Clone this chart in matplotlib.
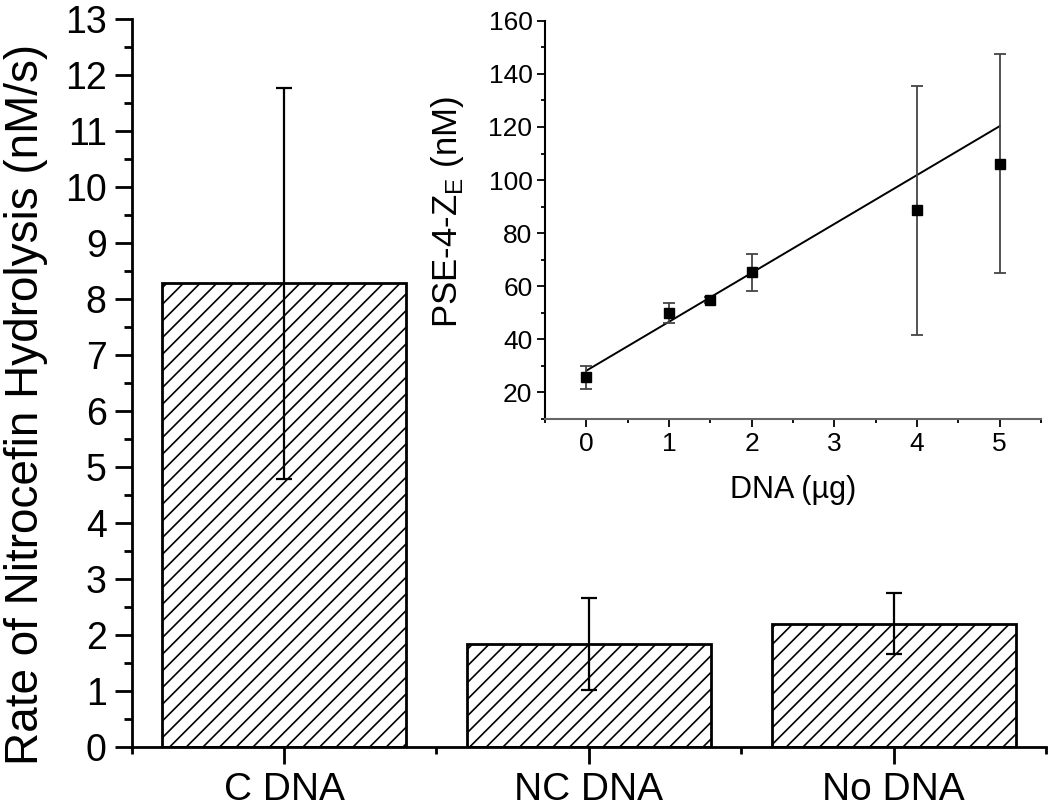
import matplotlib
matplotlib.use('Agg')
import matplotlib.pyplot as plt
from matplotlib.ticker import MultipleLocator

plt.rcParams['font.family'] = ['Liberation Sans', 'DejaVu Sans']
plt.rcParams['mathtext.fontset'] = 'custom'
plt.rcParams['mathtext.rm'] = 'Liberation Sans'
plt.rcParams['hatch.linewidth'] = 1.2

# main bar data
categories = ['C DNA', 'NC DNA', 'No DNA']
rates = [8.28, 1.84, 2.20]
rate_err = [3.5, 0.82, 0.55]

# inset data
dna_ug = [0, 1, 1.5, 2, 4, 5]
pse_nm = [25.7, 49.8, 54.8, 65.3, 88.6, 106.2]
pse_err = [4.3, 3.8, 1.0, 7.0, 46.8, 41.2]
fit_x = [0, 5]
fit_y = [28.2, 120.3]

fig = plt.figure(figsize=(10.5, 8.08), dpi=100)
ax = fig.add_axes([0.1254, 0.0759, 0.8708, 0.9002])

pos = [1, 2, 3]
ax.bar(pos, rates, width=0.8, color='white', edgecolor='black',
       linewidth=2, hatch='//', zorder=2)
ax.errorbar(pos, rates, yerr=rate_err, fmt='none', ecolor='black',
            elinewidth=1.6, capsize=6, capthick=1.6, zorder=3)

ax.set_xlim(0.5, 3.5)
ax.set_ylim(0, 13)
ax.set_xticks(pos)
ax.set_xticklabels(categories, fontsize=28)
ax.xaxis.set_minor_locator(MultipleLocator(0.5))
ax.yaxis.set_major_locator(MultipleLocator(1))
ax.yaxis.set_minor_locator(MultipleLocator(0.5))
for s in ['top', 'right']:
    ax.spines[s].set_visible(False)
for s in ['left', 'bottom']:
    ax.spines[s].set_linewidth(2)
ax.tick_params(which='major', direction='out', length=12, width=2, pad=6)
ax.tick_params(axis='y', labelsize=27)
ax.tick_params(which='minor', direction='out', length=6, width=2)
ax.tick_params(axis='x', which='minor', length=5)
ax.set_ylabel('Rate of Nitrocefin Hydrolysis (nM/s)', fontsize=33)
ax.yaxis.set_label_coords(-0.091, 0.47)

# inset
ins = fig.add_axes([0.5190, 0.4814, 0.4724, 0.4929])
ins.errorbar(dna_ug, pse_nm, yerr=pse_err, fmt='s', color='black',
             markersize=6.5, ecolor='#444444', elinewidth=1.3,
             capsize=4, capthick=1.3, zorder=3)
ins.plot(fit_x, fit_y, color='black', linewidth=1.4, zorder=2)

ins.set_xlim(-0.5, 5.5)
ins.set_ylim(10, 160)
ins.xaxis.set_major_locator(MultipleLocator(1))
ins.xaxis.set_minor_locator(MultipleLocator(0.5))
ins.set_yticks(range(20, 161, 20))
ins.yaxis.set_minor_locator(MultipleLocator(10))
for s in ['top', 'right']:
    ins.spines[s].set_visible(False)
ins.spines['left'].set_linewidth(1.5)
ins.spines['bottom'].set_linewidth(1.5)
ins.spines['bottom'].set_color('#666666')
ins.tick_params(which='major', direction='out', length=6, width=1.3,
                labelsize=19, pad=3)
ins.tick_params(which='minor', direction='out', length=3, width=1.3)
ins.set_xlabel('DNA (µg)', fontsize=22, labelpad=14)
ins.set_ylabel(r'PSE-4-Z$_\mathregular{E}$ (nM)', fontsize=25)
ins.yaxis.set_label_coords(-0.16, 0.52)

fig.savefig('out.png', dpi=100)
